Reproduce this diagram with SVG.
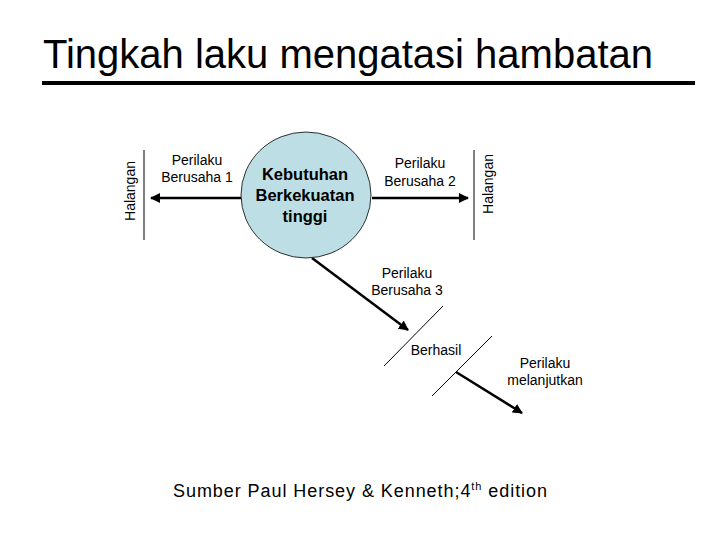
<svg xmlns="http://www.w3.org/2000/svg" width="720" height="540" viewBox="0 0 720 540">
<defs>
<style>
.t{font-family:"Liberation Sans",Arial,sans-serif;fill:#000}
.lbl{font-size:14px;text-anchor:middle}
.ln{stroke:#000;stroke-width:1;fill:none}
.ar{stroke:#000;stroke-width:2.5;fill:none;marker-end:url(#ah)}
</style>
<marker id="ah" viewBox="0 0 10 10" refX="9" refY="5" markerWidth="4" markerHeight="4" orient="auto" markerUnits="strokeWidth">
<path d="M0,0 L10,5 L0,10 Z" fill="#000"/>
</marker>
</defs>
<rect width="720" height="540" fill="#fff"/>
<g id="title">
<text class="t" x="43" y="68" font-size="40">Tingkah laku mengatasi hambatan</text>
<line x1="42" y1="83" x2="695" y2="83" stroke="#000" stroke-width="4"/>
</g>
<g id="connectors">
<line class="ar" x1="241" y1="198" x2="151" y2="198"/>
<line class="ar" x1="372" y1="198" x2="468" y2="198"/>
<line class="ar" x1="312" y1="258" x2="408" y2="330"/>
<line class="ar" x1="456" y1="372" x2="522" y2="413"/>
</g>
<g id="node-kebutuhan">
<ellipse cx="306" cy="195" rx="65" ry="63" fill="#BCDEE4" stroke="#000" stroke-width="0.8"/>
<text class="t" font-size="16.5" font-weight="bold" text-anchor="middle"><tspan x="305" y="180">Kebutuhan</tspan><tspan x="305" y="201">Berkekuatan</tspan><tspan x="305" y="222">tinggi</tspan></text>
</g>
<g id="halangan-left">
<line class="ln" x1="144" y1="150" x2="144" y2="240"/>
<text class="t lbl" transform="translate(135,191) rotate(-90)">Halangan</text>
</g>
<g id="halangan-right">
<line class="ln" x1="474" y1="150" x2="474" y2="240"/>
<text class="t lbl" transform="translate(493,184) rotate(-90)">Halangan</text>
</g>
<g id="label-berusaha1">
<text class="t lbl"><tspan x="197" y="165">Perilaku</tspan><tspan x="197" y="182">Berusaha 1</tspan></text>
</g>
<g id="label-berusaha2">
<text class="t lbl"><tspan x="420" y="168">Perilaku</tspan><tspan x="420" y="186">Berusaha 2</tspan></text>
</g>
<g id="label-berusaha3">
<text class="t lbl"><tspan x="407" y="278">Perilaku</tspan><tspan x="407" y="295">Berusaha 3</tspan></text>
</g>
<g id="berhasil">
<line class="ln" x1="443" y1="306" x2="384" y2="366"/>
<line class="ln" x1="492" y1="336" x2="432" y2="396"/>
<text class="t lbl" x="436" y="355">Berhasil</text>
</g>
<g id="label-melanjutkan">
<text class="t lbl"><tspan x="545" y="368">Perilaku</tspan><tspan x="545" y="385">melanjutkan</tspan></text>
</g>
<g id="source">
<text class="t" x="173" y="497" font-size="18" textLength="374" lengthAdjust="spacing">Sumber Paul Hersey &amp; Kenneth;4<tspan font-size="11" dy="-7">th</tspan><tspan dy="7"> edition</tspan></text>
</g>
</svg>
